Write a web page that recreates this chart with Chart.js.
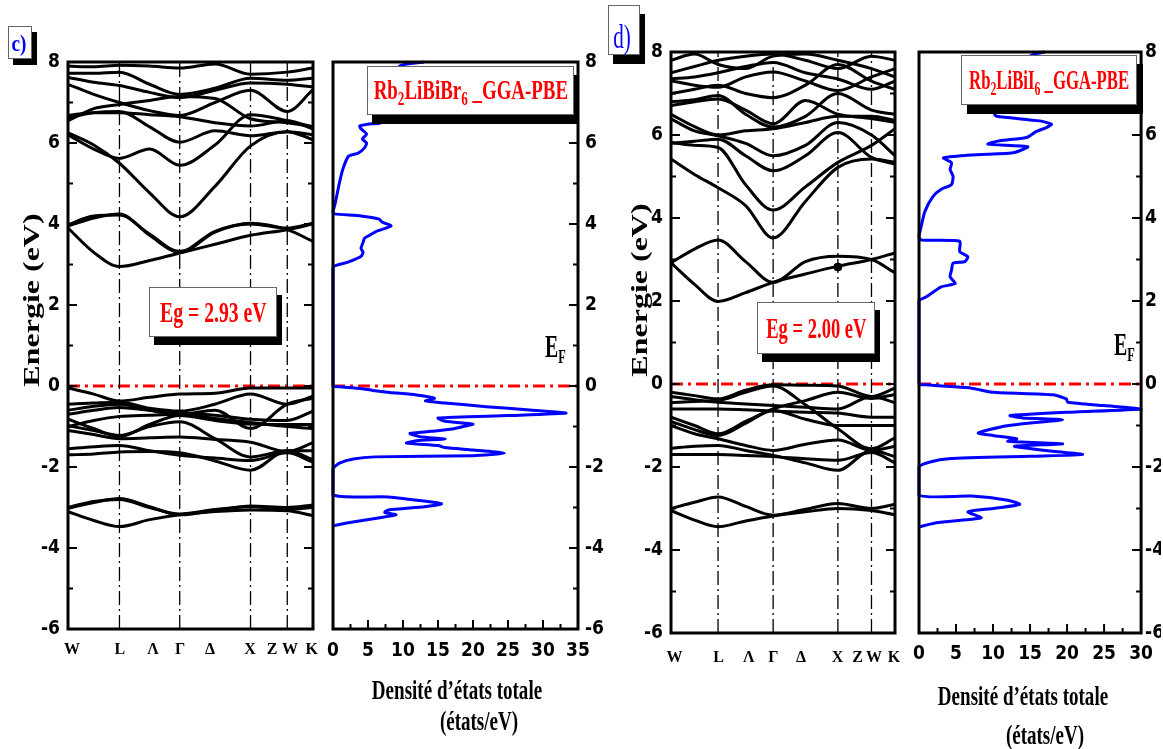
<!DOCTYPE html>
<html>
<head>
<meta charset="utf-8">
<script src="https://cdn.jsdelivr.net/npm/chart.js@4.4.1/dist/chart.umd.min.js"></script>
<style>
  body { margin: 0; background: #fff; width: 1163px; height: 749px; overflow: hidden; position: relative; font-family: 'Liberation Serif', 'Times New Roman', serif; }
  canvas { position: absolute; left: 0; top: 0; }
  .t { position: absolute; white-space: nowrap; line-height: 1; z-index: 5; }
  .c { transform: translate(-50%, -50%) scaleX(0.68); font-weight: bold; font-size: 28px; color: #000; }
  .rot { transform: translate(-50%, -50%) rotate(-90deg) scaleY(0.7); font-weight: bold; font-size: 32px; color: #000; }
  .box { position: absolute; background: #fff; border: 1px solid #666; box-shadow: 5px 8px 0 #000; z-index: 4; display: flex; align-items: center; justify-content: center; }
  .box span { display: inline-block; white-space: nowrap; font-weight: bold; color: #ff0000; line-height: 1; }
  sub { font-size: 70%; vertical-align: -0.3em; line-height: 0; }
</style>
</head>
<body>
<canvas id="bandC" width="1163" height="749"></canvas>
<canvas id="dosC" width="1163" height="749"></canvas>
<canvas id="bandD" width="1163" height="749"></canvas>
<canvas id="dosD" width="1163" height="749"></canvas>

<div class="box" style="left:8px;top:26px;width:22px;height:31px;box-shadow:5px 6px 0 #000;"></div>
<div class="t" style="left:19px;top:43px;transform:translate(-50%,-50%) scaleX(0.8);color:#0000ff;font-weight:bold;font-size:24px;">c)</div>
<div class="box" style="left:608px;top:5px;width:30px;height:48px;box-shadow:5px 9px 0 #000;"></div>
<div class="t" style="left:622px;top:37px;transform:translate(-50%,-50%) scaleX(0.62);color:#0000ff;font-size:34px;">d)</div>

<div class="box" style="left:149px;top:287px;width:126px;height:48px;"><span style="font-size:29px;transform:scaleX(0.68);">Eg = 2.93 eV</span></div>
<div class="box" style="left:757px;top:302px;width:116px;height:50px;"><span style="font-size:29px;transform:scaleX(0.64);">Eg = 2.00 eV</span></div>
<div class="box" style="left:367px;top:66px;width:205px;height:47px;box-shadow:5px 9px 0 #000;"><span style="font-size:27px;transform:scaleX(0.7);">Rb<sub>2</sub>LiBiBr<sub>6</sub> _GGA-PBE</span></div>
<div class="box" style="left:961px;top:55px;width:174px;height:48px;box-shadow:6px 9px 0 #000;"><span style="font-size:27px;transform:scaleX(0.62);">Rb<sub>2</sub>LiBiI<sub>6</sub> _GGA-PBE</span></div>

<div class="t" style="left:545px;top:330px;transform-origin:0 0;transform:scaleX(0.62);font-size:32px;font-weight:bold;">E<sub style="font-size:62%;">F</sub></div>
<div class="t" style="left:1114px;top:328px;transform-origin:0 0;transform:scaleX(0.62);font-size:32px;font-weight:bold;">E<sub style="font-size:62%;">F</sub></div>

<div class="t rot" style="left:31px;top:300px;">Energie (eV)</div>
<div class="t rot" style="left:639px;top:290px;">Energie (eV)</div>

<div class="t c" style="left:457px;top:690px;">Densité d’états totale</div>
<div class="t c" style="left:479px;top:721px;">(états/eV)</div>
<div class="t c" style="left:1023px;top:696px;">Densité d’états totale</div>
<div class="t c" style="left:1045px;top:735px;">(états/eV)</div>

<script>
// k-path sample positions: W, W-L, L, L-Γ, Γ, Γ-X, X, W, K
const kPts = [0, 0.105, 0.21, 0.333, 0.456, 0.6, 0.745, 0.895, 1];
const kSym = [0.21, 0.456, 0.745, 0.895];
const kLabels = ['W', 'L', 'Λ', 'Γ', 'Δ', 'X', 'Z', 'W', 'K'];
const kLabelPos = [0.016, 0.212, 0.347, 0.457, 0.58, 0.743, 0.833, 0.906, 0.995];

// Rb2LiBiBr6 bands (eV) at kPts
const bandsC = [
  [3.9, 3.3, 2.95, 3.1, 3.28, 3.5, 3.72, 3.86, 4.0],
  [3.95, 4.15, 4.25, 3.72, 3.3, 3.8, 4.02, 3.86, 3.57],
  [3.98, 4.2, 4.22, 3.75, 3.32, 3.82, 4.0, 3.9, 4.02],
  [6.25, 5.95, 5.5, 4.77, 4.18, 4.93, 5.93, 6.28, 6.08],
  [6.2, 5.85, 5.62, 5.85, 5.45, 5.95, 6.7, 6.55, 6.4],
  [6.62, 6.75, 6.78, 6.4, 6.02, 6.3, 6.18, 6.28, 6.2],
  [6.68, 6.75, 6.75, 6.7, 6.65, 6.5, 6.42, 6.55, 6.35],
  [7.45, 7.2, 7.0, 6.8, 6.68, 7.0, 7.3, 6.78, 7.32],
  [7.62, 7.5, 7.42, 7.25, 7.12, 7.3, 7.48, 7.45, 7.38],
  [7.72, 7.72, 7.75, 7.45, 7.2, 7.35, 7.6, 7.55, 7.6],
  [7.9, 7.88, 7.92, 7.9, 7.85, 7.95, 7.7, 7.75, 7.85],
  [6.55, 6.85, 6.95, 7.05, 7.15, 7.1, 6.6, 6.5, 6.4],
  [-0.05, -0.2, -0.37, -0.28, -0.2, -0.18, -0.05, -0.05, -0.05],
  [-0.45, -0.42, -0.4, -0.55, -0.62, -0.45, -0.2, -0.45, -0.25],
  [-0.7, -0.6, -0.53, -0.6, -0.65, -0.72, -0.82, -0.85, -0.62],
  [-0.98, -1.1, -1.22, -1.0, -0.88, -1.3, -1.75, -1.6, -1.82],
  [-1.1, -1.2, -1.3, -1.28, -1.26, -1.32, -1.39, -1.62, -1.4],
  [-1.55, -1.5, -1.47, -1.6, -1.71, -1.78, -1.84, -1.65, -1.88],
  [-1.7, -1.68, -1.63, -1.62, -1.65, -1.85, -2.08, -1.6, -1.6],
  [-0.82, -1.05, -1.25, -0.95, -0.73, -0.85, -0.94, -0.95, -0.95],
  [-1.0, -0.85, -0.75, -0.72, -0.7, -0.8, -0.9, -1.0, -1.05],
  [-0.6, -0.5, -0.45, -0.6, -0.7, -0.6, -1.05, -0.45, -0.3],
  [-3.02, -2.88, -2.78, -2.98, -3.18, -3.08, -2.96, -3.0, -2.94],
  [-3.1, -3.32, -3.47, -3.3, -3.18, -3.1, -3.06, -3.08, -3.2],
  [-3.0, -2.85, -2.8, -3.0, -3.16, -3.05, -2.98, -3.05, -3.0]
];

// Rb2LiBiI6 bands (eV) at kPts
const bandsD = [
  [2.92, 2.4, 1.99, 2.2, 2.45, 2.65, 2.84, 3.0, 3.16],
  [2.92, 3.25, 3.47, 2.95, 2.45, 2.95, 3.08, 3.0, 2.68],
  [5.42, 5.05, 4.73, 4.3, 3.52, 4.4, 5.22, 5.42, 5.34],
  [5.82, 5.75, 5.7, 4.8, 4.19, 4.75, 5.34, 5.75, 6.15],
  [5.8, 5.85, 5.9, 5.5, 5.14, 5.5, 6.06, 5.46, 5.3],
  [6.39, 6.1, 5.98, 5.8, 5.5, 5.75, 6.3, 6.0, 5.5],
  [6.5, 6.2, 6.0, 6.1, 6.15, 6.3, 6.45, 6.45, 6.35],
  [6.71, 6.8, 6.87, 6.6, 6.27, 6.83, 6.5, 6.4, 6.3],
  [6.8, 6.85, 6.95, 6.5, 6.19, 6.45, 7.0, 6.6, 6.5],
  [7.31, 7.2, 7.15, 7.4, 7.52, 7.3, 7.07, 7.4, 7.6],
  [7.5, 7.65, 7.8, 7.9, 7.95, 7.8, 7.6, 7.9, 7.8],
  [7.35, 7.4, 7.5, 7.65, 7.75, 7.5, 7.35, 7.1, 7.3],
  [7.0, 7.1, 7.2, 7.0, 6.9, 7.2, 7.7, 7.3, 7.1],
  [7.8, 7.95, 7.7, 7.6, 7.9, 7.95, 7.8, 7.6, 7.4],
  [-0.2, -0.28, -0.36, -0.15, -0.02, -0.03, -0.05, -0.3, -0.1],
  [-0.3, -0.38, -0.44, -0.48, -0.52, -0.56, -0.6, -0.3, -0.45],
  [-0.6, -0.6, -0.6, -0.62, -0.65, -0.68, -0.7, -0.8, -0.8],
  [-0.45, -0.42, -0.4, -0.2, -0.05, -0.5, -1.08, -1.56, -1.3],
  [-0.9, -1.1, -1.24, -0.95, -0.64, -0.85, -1.0, -1.0, -1.0],
  [-1.0, -1.2, -1.32, -1.48, -1.6, -1.45, -1.35, -1.6, -1.5],
  [-1.55, -1.5, -1.48, -1.6, -1.72, -1.9, -2.08, -1.6, -1.75],
  [-1.7, -1.7, -1.7, -1.72, -1.75, -1.8, -1.84, -1.65, -1.9],
  [-0.8, -1.0, -1.2, -0.9, -0.6, -0.4, -0.2, -0.35, -0.25],
  [-3.0, -2.85, -2.72, -2.95, -3.16, -3.02, -2.88, -3.0, -2.9],
  [-3.05, -3.28, -3.44, -3.3, -3.18, -3.08, -3.0, -3.05, -3.15]
];
const dotD = { k: 0.745, e: 2.82 };

// total DOS, energies ascending (eV) and states/eV
const dosC_E = [-3.45, -3.37, -3.27, -3.18, -3.12, -3.06, -2.98, -2.91, -2.86, -2.74, -2.69,
  -2.04, -1.9, -1.8, -1.75, -1.72, -1.66, -1.58, -1.52, -1.47, -1.41, -1.35, -1.31, -1.25, -1.17, -1.12,
  -1.06, -1.0, -0.94, -0.87, -0.79, -0.73, -0.67, -0.59, -0.51, -0.42, -0.37, -0.3, -0.22, -0.16, -0.11, -0.06, -0.02, 0,
  2.92, 3.05, 3.2, 3.3, 3.4, 3.55, 3.65, 3.72, 3.82, 3.95, 4.05, 4.12, 4.2, 4.25, 4.3, 4.5, 5.0, 5.35, 5.67,
  5.75, 5.88, 6.0, 6.1, 6.22, 6.35, 6.42, 6.47, 6.5, 7.0, 7.5, 7.9, 8.0];
const dosC_N = [0, 2.4, 6, 9, 7.4, 7.9, 13.1, 15.5, 13.8, 7.9, 0,
  0, 1, 2.9, 6, 20, 24.5, 20, 16, 15, 10.5, 11.9, 16, 12.4, 11, 14,
  17.1, 18.6, 20, 16, 15, 25, 33.3, 28.1, 21.9, 16, 13.2, 14.5, 11.9, 8.1, 5.7, 4, 1, 0,
  0, 2, 4, 4.3, 4.0, 4.3, 4.5, 5.2, 6.2, 8.3, 7.0, 6.6, 4, 0.2, 0, 0.3, 0.9, 1.4, 2.2,
  3.6, 4.5, 4.8, 4.2, 4.8, 4.0, 3.8, 5.2, 6.8, 9, 10, 9.5, 13];

const dosD_E = [-3.44, -3.34, -3.26, -3.22, -3.08, -3.0, -2.9, -2.8, -2.7, -2.68,
  -2.0, -1.88, -1.8, -1.74, -1.7, -1.58, -1.5, -1.44, -1.38, -1.32, -1.24, -1.18, -1.04, -0.96,
  -0.86, -0.82, -0.76, -0.68, -0.6, -0.52, -0.44, -0.36, -0.26, -0.2, -0.1, -0.06, -0.02, 0,
  2.0, 2.1, 2.34, 2.42, 2.58, 2.75, 2.91, 2.95, 3.07, 3.19, 3.44, 3.47, 3.55, 3.72, 4.16, 4.52, 4.69,
  4.81, 5.01, 5.17, 5.33, 5.45, 5.51, 5.57, 5.72, 5.78, 5.86, 5.94, 6.08, 6.18, 6.26, 6.34, 6.45, 6.5,
  7.0, 7.5, 7.9, 8.0];
const dosD_N = [0, 2.6, 7.1, 8.4, 6.6, 10, 13.6, 12, 7.1, 0,
  0, 1.5, 4, 15, 22.1, 15.9, 12.9, 19.4, 12, 13.2, 10, 8, 10.9, 14,
  19.4, 14, 12.3, 19.9, 30, 25, 20.1, 19.9, 18.1, 10, 7.1, 4.2, 1, 0,
  0, 1.0, 3.0, 4.9, 4.2, 4.4, 4.6, 6.2, 6.6, 5.5, 5.5, 0.3, 0, 0.2, 0.8, 1.9, 3.0,
  4.4, 4.6, 4.2, 4.4, 3.3, 6.4, 12.7, 14.7, 9.3, 10.9, 14.5, 15.8, 17.2, 17.9, 16.3, 10.5, 10.2,
  13, 15, 15, 17];

const eMin = -6, eMax = 8, eStep = 2;

const numFont = { family: "'Liberation Sans Narrow', 'DejaVu Sans Condensed', 'Liberation Sans', sans-serif", size: 19, weight: 'bold' };
const kFont = { family: "'Liberation Serif', serif", size: 16, weight: 'bold' };

const frame = {
  id: 'frame',
  afterDatasetsDraw(chart, args, o) {
    const { ctx, chartArea: a } = chart;
    const x = chart.scales.x, y = chart.scales.y;
    ctx.save();
    ctx.strokeStyle = '#000';
    ctx.lineWidth = 2;
    ctx.beginPath();
    for (let v = y.min + 1; v < y.max; v++) {
      const py = y.getPixelForValue(v), len = v % 2 === 0 ? 9 : 5;
      if (o.left) { ctx.moveTo(a.left, py); ctx.lineTo(a.left + len, py); }
      if (o.right) { ctx.moveTo(a.right, py); ctx.lineTo(a.right - len, py); }
    }
    if (o.bottom) {
      for (let v = x.min + 2.5; v < x.max; v += 2.5) {
        const px = x.getPixelForValue(v), len = v % 5 === 0 ? 9 : 5;
        ctx.moveTo(px, a.bottom); ctx.lineTo(px, a.bottom - len);
      }
    }
    ctx.stroke();
    ctx.lineWidth = 3;
    ctx.strokeRect(a.left, a.top, a.right - a.left, a.bottom - a.top);
    ctx.restore();
  }
};
Chart.register(frame);

const fermi = (x0, x1) => ({
  data: [{ x: x0, y: 0 }, { x: x1, y: 0 }],
  borderColor: '#ff0000', borderWidth: 3, borderDash: [12, 5, 3, 5], pointRadius: 0
});

function bandChart(id, bands, area, dot) {
  const ds = bands.map(b => ({
    data: b.map((e, i) => ({ x: kPts[i], y: e })),
    borderColor: '#000', borderWidth: 3, pointRadius: 0, cubicInterpolationMode: 'monotone'
  }));
  kSym.forEach(k => ds.push({
    data: [{ x: k, y: eMin }, { x: k, y: eMax }],
    borderColor: '#000', borderWidth: 1.3, borderDash: [14, 4, 2, 4], pointRadius: 0
  }));
  ds.push(fermi(0, 1));
  if (dot) ds.push({ data: [{ x: dot.k, y: dot.e }], showLine: false, pointRadius: 4, backgroundColor: '#000', borderColor: '#000' });

  new Chart(document.getElementById(id), {
    type: 'line',
    data: { datasets: ds },
    options: {
      responsive: false, animation: false, events: [],
      layout: { padding: { left: area.l - 40, top: area.t, right: 1163 - area.r, bottom: 749 - area.b - 40 } },
      plugins: { legend: { display: false }, tooltip: { enabled: false }, frame: { left: true, right: true } },
      scales: {
        x: {
          type: 'linear', min: 0, max: 1,
          grid: { display: false, drawTicks: false }, border: { display: false },
          afterBuildTicks: s => { s.ticks = kLabelPos.map(v => ({ value: v })); },
          afterFit: s => { s.height = 40; },
          ticks: { autoSkip: false, maxRotation: 0, padding: area.xPad, color: '#000', font: kFont,
            callback: (v, i) => kLabels[i] }
        },
        y: {
          min: eMin, max: eMax,
          grid: { display: false, drawTicks: false }, border: { display: false },
          afterFit: s => { s.width = 40; },
          ticks: { stepSize: eStep, padding: 8, color: '#000', font: numFont }
        }
      }
    }
  });
}

function dosChart(id, E, N, xMax, area) {
  const ds = [
    { data: E.map((e, i) => ({ x: N[i], y: e })), borderColor: '#0000ff', borderWidth: 3, pointRadius: 0, tension: 0.2, clip: 4 },
    fermi(0, xMax)
  ];
  new Chart(document.getElementById(id), {
    type: 'line',
    data: { datasets: ds },
    options: {
      responsive: false, animation: false, events: [],
      layout: { padding: { left: area.l, top: area.t, right: 1163 - area.r - area.yw, bottom: 749 - area.b - 40 } },
      plugins: { legend: { display: false }, tooltip: { enabled: false }, frame: { right: true, bottom: true } },
      scales: {
        x: {
          type: 'linear', min: 0, max: xMax,
          grid: { display: false, drawTicks: false }, border: { display: false },
          afterFit: s => { s.height = 40; },
          ticks: { stepSize: 5, maxRotation: 0, padding: area.xPad, color: '#000', font: numFont }
        },
        y: {
          position: 'right', min: eMin, max: eMax,
          grid: { display: false, drawTicks: false }, border: { display: false },
          afterFit: s => { s.width = area.yw; },
          ticks: { stepSize: eStep, padding: area.yPad, color: '#000', font: numFont }
        }
      }
    }
  });
}

bandChart('bandC', bandsC, { l: 68, r: 313, t: 62, b: 629, xPad: 11 });
dosChart('dosC', dosC_E, dosC_N, 35, { l: 333, r: 578, t: 62, b: 629, xPad: 11, yw: 40, yPad: 7 });
bandChart('bandD', bandsD, { l: 671, r: 895, t: 52, b: 633, xPad: 15 }, dotD);
dosChart('dosD', dosD_E, dosD_N, 30, { l: 919, r: 1142, t: 52, b: 633, xPad: 10, yw: 20, yPad: 4 });
</script>
</body>
</html>
